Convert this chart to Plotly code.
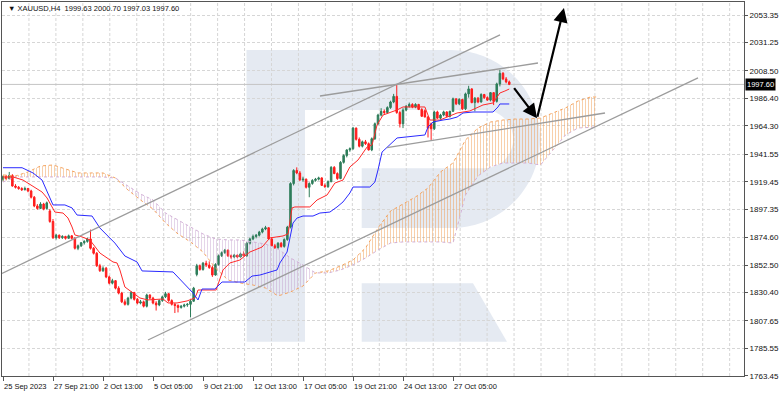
import plotly.graph_objects as go

# ---------------- data ----------------
bars = list(range(163))

open_ = [1921.5,1923.5,1922.0,1924.5,1916.0,1915.0,1914.0,1913.0,1914.0,1912.0,
 1907.0,1900.0,1898.0,1901.5,1898.0,1896.0,1887.5,1874.5,1876.5,1874.5,
 1875.5,1874.0,1876.0,1874.0,1866.0,1868.0,1870.5,1871.5,1873.5,1866.0,
 1862.0,1852.0,1848.0,1850.0,1843.0,1838.0,1840.0,1834.0,1830.0,1823.0,
 1821.0,1826.0,1830.5,1825.0,1822.0,1823.0,1819.5,1828.5,1826.0,1822.0,
 1820.5,1824.0,1827.0,1829.5,1824.0,1821.0,1820.0,1818.5,1819.5,1820.5,
 1821.0,1823.5,1845.0,1852.0,1849.0,1854.0,1852.5,1850.5,1844.5,1853.0,
 1860.0,1862.5,1864.5,1860.0,1859.0,1860.5,1859.0,1861.5,1860.0,1870.0,
 1873.5,1875.5,1876.5,1879.0,1881.5,1882.5,1873.5,1868.0,1866.5,1870.0,
 1867.5,1873.0,1883.0,1918.0,1928.5,1926.5,1921.0,1921.5,1915.0,1918.0,
 1920.5,1921.5,1922.5,1916.5,1915.5,1919.5,1931.0,1926.0,1922.0,1935.0,
 1940.5,1945.0,1946.0,1962.5,1953.5,1948.0,1951.5,1950.0,1945.0,1954.0,
 1966.0,1973.0,1976.0,1975.0,1979.0,1983.5,1988.0,1975.0,1966.0,1977.0,
 1980.0,1981.5,1979.5,1981.5,1977.5,1976.5,1971.5,1966.0,1962.0,1975.5,
 1970.5,1973.0,1975.5,1972.0,1976.0,1986.0,1982.0,1985.5,1978.0,1990.0,
 1994.0,1983.0,1986.5,1983.5,1989.5,1987.0,1985.0,1991.0,1984.0,1998.0,
 2006.5,2002.0,1999.63]

high = [1924.5,1925.0,1927.3,1925.5,1917.5,1916.0,1915.0,1915.5,1914.5,1913.0,
 1908.0,1901.5,1903.0,1902.5,1903.5,1897.5,1889.5,1877.5,1877.0,1876.5,
 1876.0,1877.0,1876.5,1875.0,1869.0,1871.0,1872.5,1874.5,1881.0,1867.0,
 1863.0,1853.5,1851.5,1851.0,1844.0,1841.5,1840.5,1835.5,1831.0,1825.0,
 1827.0,1831.5,1831.0,1826.0,1824.5,1824.0,1829.5,1829.0,1827.0,1823.5,
 1825.0,1828.0,1831.0,1830.0,1825.0,1822.0,1821.0,1820.5,1821.5,1822.0,
 1824.5,1835.0,1853.5,1853.0,1855.0,1856.0,1855.5,1852.0,1854.0,1861.0,
 1863.5,1865.5,1865.0,1861.0,1861.5,1861.0,1862.5,1863.5,1871.0,1874.5,
 1877.0,1877.5,1880.0,1882.5,1884.0,1883.0,1875.0,1869.5,1871.0,1871.0,
 1874.0,1884.0,1919.0,1929.5,1931.0,1928.0,1923.5,1922.0,1919.0,1921.5,
 1922.5,1923.5,1923.0,1918.0,1920.5,1932.0,1932.0,1927.0,1936.0,1941.5,
 1945.5,1947.0,1963.5,1963.0,1955.0,1952.5,1953.0,1951.0,1955.0,1967.0,
 1974.0,1978.5,1977.5,1980.0,1984.5,1990.0,1997.5,1976.5,1978.5,1981.0,
 1983.0,1982.5,1982.5,1982.0,1978.5,1977.5,1972.0,1967.0,1976.5,1976.5,
 1974.0,1976.5,1976.0,1976.5,1987.0,1986.5,1986.5,1986.0,1991.0,1996.5,
 1994.5,1987.5,1987.5,1990.5,1990.0,1988.0,1991.5,1991.5,1999.0,2009.4,
 2007.5,2003.5,2000.70]

low = [1920.0,1921.0,1921.5,1915.5,1914.0,1913.0,1912.0,1912.5,1911.0,1906.0,
 1899.0,1897.0,1897.5,1896.5,1897.0,1886.5,1873.5,1873.0,1873.5,1873.5,
 1873.0,1873.5,1873.0,1865.0,1864.5,1867.0,1869.0,1870.5,1865.0,1861.0,
 1851.0,1847.0,1847.0,1842.0,1837.0,1837.0,1833.0,1829.0,1822.0,1820.0,
 1820.0,1825.0,1824.0,1821.0,1821.0,1818.5,1818.5,1825.0,1821.0,1816.0,
 1819.5,1823.0,1826.0,1823.0,1820.0,1814.0,1814.5,1817.5,1818.5,1819.0,
 1810.5,1823.0,1843.5,1848.0,1848.0,1851.0,1849.5,1843.0,1844.0,1852.0,
 1859.0,1861.5,1859.0,1857.5,1858.0,1858.0,1858.5,1859.5,1859.0,1869.0,
 1872.5,1874.0,1875.5,1878.0,1880.5,1873.0,1867.5,1865.5,1865.5,1866.5,
 1866.5,1872.0,1882.0,1916.5,1925.5,1920.0,1919.5,1914.0,1907.0,1917.0,
 1919.5,1920.5,1916.0,1914.5,1914.5,1919.0,1925.5,1921.0,1921.5,1934.0,
 1939.0,1943.5,1945.0,1952.5,1947.0,1947.0,1949.0,1944.5,1944.0,1953.0,
 1965.0,1972.0,1973.5,1974.0,1978.0,1982.5,1974.0,1963.0,1962.5,1976.0,
 1979.0,1978.5,1978.5,1977.0,1971.5,1971.0,1955.0,1953.0,1961.0,1970.0,
 1969.5,1972.0,1971.5,1971.0,1975.5,1981.0,1981.0,1977.0,1977.0,1987.0,
 1982.5,1976.0,1982.5,1983.0,1986.0,1984.5,1984.0,1981.0,1983.0,1996.0,
 2001.0,1998.5,1997.03]

close = [1923.5,1922.0,1924.5,1916.0,1915.0,1914.0,1913.0,1914.0,1912.0,1907.0,
 1900.0,1898.0,1901.5,1897.5,1902.5,1887.5,1874.5,1876.5,1874.5,1875.5,
 1874.0,1876.0,1874.0,1866.0,1868.0,1870.5,1871.5,1873.5,1866.0,1862.0,
 1852.0,1848.0,1850.0,1843.0,1838.0,1840.0,1834.0,1830.0,1823.0,1821.0,
 1826.0,1830.5,1825.0,1822.0,1823.0,1819.5,1828.5,1826.0,1822.0,1820.5,
 1824.0,1827.0,1829.5,1824.0,1821.0,1820.0,1818.5,1819.5,1820.5,1821.0,
 1823.5,1834.0,1852.0,1849.0,1854.0,1852.5,1850.5,1844.5,1853.0,1860.0,
 1862.5,1864.5,1860.0,1859.0,1860.5,1859.0,1861.5,1860.0,1870.0,1873.5,
 1875.5,1876.5,1879.0,1881.5,1882.5,1873.5,1868.0,1866.5,1870.0,1867.5,
 1873.0,1883.0,1918.0,1928.5,1926.5,1921.0,1921.5,1915.0,1918.0,1920.5,
 1921.5,1922.5,1916.5,1915.5,1919.5,1931.0,1926.0,1922.0,1935.0,1940.5,
 1945.0,1946.0,1962.5,1953.5,1948.0,1951.5,1950.0,1945.0,1954.0,1966.0,
 1973.0,1976.0,1975.0,1979.0,1983.5,1988.0,1975.0,1966.0,1977.0,1980.0,
 1981.5,1979.5,1981.5,1977.5,1972.0,1971.5,1962.5,1962.0,1975.5,1970.5,
 1973.0,1975.5,1972.0,1976.0,1986.0,1982.0,1985.5,1978.0,1990.0,1994.0,
 1983.0,1986.5,1983.5,1989.5,1987.0,1985.0,1991.0,1984.0,1998.0,2006.5,
 2002.0,1999.6,1997.60]

# Ichimoku Tenkan-sen (red)
tenkan_x = [0, 3.2, 6.4, 9.6, 12.5, 14.1, 15.7, 16.6, 19.2, 20.8, 22.1, 23, 25.3, 27.8, 31,
            35.2, 36.5, 37.4, 39, 41.6, 43.8, 46.4, 51.2, 52.8, 55.7, 58.9, 61.4, 62.1, 62.4,
            68.2, 70.4, 72.6, 75.8, 79, 82.9, 85.4, 89.6, 91.2, 92.5, 93.4, 98.2, 100.5, 103.7,
            106.2, 108.8, 111, 113.6, 116.5, 118.1, 119.7, 121.6, 126.1, 128, 135, 136.6, 139.8,
            142.1, 145.3, 149.4, 153.6, 156.8, 159, 160.6, 162]
tenkan_y = [1923.3, 1923.3, 1920.8, 1916.0, 1911.2, 1906.4, 1898.4, 1895.1, 1894.3, 1890.3,
            1883.1, 1876.7, 1875.1, 1872.7, 1862.2, 1855.0, 1854.2, 1848.6, 1834.9, 1830.1,
            1826.1, 1824.5, 1825.3, 1822.1, 1822.1, 1823.7, 1826.1, 1830.1, 1832.5, 1832.5,
            1848.6, 1854.2, 1856.6, 1863.0, 1867.0, 1874.3, 1875.9, 1877.5, 1898.4, 1899.2,
            1899.2, 1904.8, 1908.8, 1918.4, 1920.8, 1931.3, 1936.9, 1947.3, 1949.0, 1965.0,
            1973.0, 1977.1, 1979.5, 1979.5, 1969.0, 1969.0, 1971.4, 1974.65, 1976.3, 1981.1,
            1982.7, 1990.7, 1992.3, 1993.9]

# Ichimoku Kijun-sen (blue)
kijun_x = [0, 6.1, 9.6, 12.5, 16, 19.8, 22.1, 23.7, 28.5, 31, 35.8, 39, 42.9, 44.5, 54.4,
           58.2, 60.8, 62.4, 63.7, 67.8, 70.1, 77.4, 79.7, 82.2, 87.7, 88.6, 90.9, 92.8, 94.1,
           96, 99.2, 101.4, 104.6, 106.9, 108.8, 111, 112, 117.4, 119, 120, 121.3, 126.1, 135,
           136, 137.6, 140.8, 143, 145.3, 147.2, 150.4, 156.8, 158.4, 159, 162]
kijun_y = [1930.7, 1930.7, 1926.5, 1920.8, 1900.8, 1900.8, 1898.4, 1892.7, 1891.9, 1882.3,
           1870.2, 1859.8, 1855.0, 1847.8, 1847.0, 1836.5, 1830.1, 1824.5, 1833.3, 1833.3,
           1838.9, 1838.9, 1843.7, 1844.5, 1848.6, 1854.2, 1863.0, 1886.3, 1890.3, 1891.9,
           1891.9, 1894.3, 1895.1, 1899.2, 1903.2, 1910.4, 1915.2, 1915.2, 1919.2, 1928.9,
           1943.3, 1954.6, 1957.0, 1963.4, 1967.4, 1969.0, 1969.8, 1971.4, 1974.65, 1975.45,
           1975.45, 1979.5, 1981.9, 1981.9]

# Ichimoku cloud (Senkou Span A / B), shifted 26 bars ahead
cloud_x = [0, 4, 8, 12, 16, 20, 24, 28, 32, 36, 40, 44, 48, 52, 56, 60, 64, 68, 72, 76,
           80, 84, 88, 92, 96, 100, 104, 108, 112, 116, 120, 124, 128, 132, 136, 140, 144,
           148, 152, 156, 160, 164, 168, 172, 176, 180, 184, 188, 190]
span_a = [1924.9, 1924.1, 1927.3, 1932.1, 1932.9, 1929.7, 1926.5, 1926.5, 1926.5, 1922.4,
          1912.8, 1904.8, 1897.5, 1886.3, 1877.5, 1871.1, 1863.0, 1850.2, 1840.5, 1838.1,
          1836.5, 1834.1, 1827.7, 1830.9, 1835.7, 1846.2, 1847.8, 1851.8, 1856.6, 1866.2,
          1882.3, 1895.9, 1901.6, 1907.2, 1914.4, 1927.3, 1934.5, 1953.0, 1962.6, 1967.4,
          1969.0, 1969.8, 1969.8, 1970.6, 1974.7, 1978.7, 1984.3, 1987.5, 1987.5]
span_b = [1919.2, 1923.3, 1923.3, 1923.3, 1923.3, 1923.3, 1923.3, 1923.3, 1923.3, 1922.4,
          1916.0, 1909.6, 1904.8, 1894.3, 1888.7, 1883.1, 1877.5, 1873.5, 1872.7, 1872.7,
          1871.1, 1869.4, 1865.4, 1858.2, 1852.6, 1846.2, 1846.2, 1848.6, 1852.6, 1858.2,
          1864.6, 1870.2, 1871.1, 1871.1, 1871.1, 1871.1, 1870.2, 1908.8, 1924.1, 1931.3,
          1934.5, 1934.5, 1934.5, 1932.9, 1944.9, 1957.0, 1962.6, 1963.4, 1963.4]

# axis ticks
ytick_vals = [2053.35, 2031.25, 2008.50, 1986.40, 1964.30, 1941.55, 1919.45, 1897.35,
              1874.60, 1852.50, 1830.40, 1807.65, 1785.55, 1763.45]
ytick_text = ["2053.35", "2031.25", "2008.50", "1986.40", "1964.30", "1941.55", "1919.45",
              "1897.35", "1874.60", "1852.50", "1830.40", "1807.65", "1785.55", "1763.45"]
xtick_bars = [0, 16, 32, 48, 64, 80, 96, 112, 128, 144]
xtick_text = ["25 Sep 2023", "27 Sep 21:00", "2 Oct 13:00", "5 Oct 05:00", "9 Oct 21:00",
              "12 Oct 13:00", "17 Oct 05:00", "19 Oct 21:00", "24 Oct 13:00", "27 Oct 05:00"]

# hand-drawn analysis objects (bar index, price)
trendlines = [
    (-0.32, 1845.85, 159.04, 2037.45),
    (46.4, 1792.35, 222.4, 2002.9),
    (101.44, 1988.3, 171.2, 2014.8),
    (122.88, 1946.9, 192.64, 1974.65),
]
arrows = [
    (163.2, 1995.8, 170.9, 1970.4),
    (170.9, 1970.4, 179.5, 2059.0),
]
last_price = 1997.60
title_text = "\u25BC XAUUSD,H4  1999.63 2000.70 1997.03 1997.60"

# ---------------- styling ----------------
FONT = "Liberation Sans, Arial, sans-serif"
GREEN = "#2e7d5a"
RED = "#ff1c1c"
W, H = 782, 396
ML, MR, MT, MB = 2, 38, 2, 20
PW, PH = W - ML - MR, H - MT - MB
X_RANGE = [-0.32, 237.12]
Y_RANGE = [1763.43, 2063.79]


def px(x, y):
    """pixel (page) position -> paper coordinates (for decorations only)"""
    return (x - ML) / PW, (H - MB - y) / PH


def path(points_cmds):
    out = []
    for cmd, pts in points_cmds:
        coords = " ".join("%.5f,%.5f" % px(*p) for p in pts)
        out.append(cmd + coords)
    return " ".join(out) + " Z"


fig = go.Figure()

# cloud fills
upper = [max(a, b) for a, b in zip(span_a, span_b)]
fig.add_trace(go.Scatter(x=cloud_x, y=span_b, mode="lines", line=dict(width=0),
                         hoverinfo="skip", showlegend=False))
fig.add_trace(go.Scatter(x=cloud_x, y=upper, mode="lines", line=dict(width=0),
                         fill="tonexty", fillcolor="rgba(0,0,0,0)",
                         fillpattern=dict(shape="|", size=3, solidity=0.33,
                                          fgcolor="rgba(240,150,70,0.9)",
                                          bgcolor="rgba(0,0,0,0)"),
                         hoverinfo="skip", showlegend=False))
fig.add_trace(go.Scatter(x=cloud_x, y=span_a, mode="lines", line=dict(width=0),
                         hoverinfo="skip", showlegend=False))
fig.add_trace(go.Scatter(x=cloud_x, y=upper, mode="lines", line=dict(width=0),
                         fill="tonexty", fillcolor="rgba(0,0,0,0)",
                         fillpattern=dict(shape="|", size=3, solidity=0.33,
                                          fgcolor="rgba(190,150,200,0.8)",
                                          bgcolor="rgba(0,0,0,0)"),
                         hoverinfo="skip", showlegend=False))
fig.add_trace(go.Scatter(x=cloud_x, y=span_a, mode="lines",
                         line=dict(color="#f4a460", width=1, dash="dot"),
                         hoverinfo="skip", showlegend=False))
fig.add_trace(go.Scatter(x=cloud_x, y=span_b, mode="lines",
                         line=dict(color="#d2b0d6", width=1, dash="dot"),
                         hoverinfo="skip", showlegend=False))

# tenkan / kijun
fig.add_trace(go.Scatter(x=tenkan_x, y=tenkan_y, mode="lines",
                         line=dict(color="#ff2a2a", width=1), showlegend=False))
fig.add_trace(go.Scatter(x=kijun_x, y=kijun_y, mode="lines",
                         line=dict(color="#2a2aff", width=1), showlegend=False))

# candles
fig.add_trace(go.Candlestick(
    x=bars, open=open_, high=high, low=low, close=close,
    increasing=dict(line=dict(color=GREEN, width=1), fillcolor=GREEN),
    decreasing=dict(line=dict(color=RED, width=1), fillcolor=RED),
    whiskerwidth=0, showlegend=False))

shapes = []
WM = "#e5eaf2"
# watermark logo
shapes.append(dict(type="rect", xref="paper", yref="paper", layer="below",
                   x0=px(246.7, 0)[0], x1=px(305, 0)[0], y0=px(0, 341.7)[1], y1=px(0, 50)[1],
                   fillcolor=WM, line=dict(width=0)))
R, k = 89.0, 49.2
shapes.append(dict(type="path", xref="paper", yref="paper", layer="below",
                   path=path([("M", [(246.7, 50)]), ("L", [(451, 50)]),
                              ("C", [(451 + k, 50), (540, 139 - k), (540, 139)]),
                              ("C", [(540, 139 + k), (451 + k, 228), (451, 228)]),
                              ("L", [(246.7, 228)])]),
                   fillcolor=WM, line=dict(width=0)))
shapes.append(dict(type="path", xref="paper", yref="paper", layer="below",
                   path=path([("M", [(305, 110)]), ("L", [(484, 110)]),
                              ("C", [(500.1, 110), (513.2, 123), (513.2, 139.15)]),
                              ("C", [(513.2, 155.3), (500.1, 168.3), (484, 168.3)]),
                              ("L", [(305, 168.3)])]),
                   fillcolor="white", line=dict(width=0)))
shapes.append(dict(type="rect", xref="paper", yref="paper", layer="below",
                   x0=px(305, 0)[0], x1=px(361.7, 0)[0], y0=px(0, 228.5)[1], y1=px(0, 168)[1],
                   fillcolor="white", line=dict(width=0)))
shapes.append(dict(type="path", xref="paper", yref="paper", layer="below",
                   path=path([("M", [(361.7, 283.3)]), ("L", [(473, 283.3)]),
                              ("L", [(507, 341.7)]), ("L", [(361.7, 341.7)])]),
                   fillcolor=WM, line=dict(width=0)))
# vertical grid
for kk in range(1, 28):
    gx = px(2 + 26.95 * kk, 0)[0]
    shapes.append(dict(type="line", xref="paper", yref="paper", layer="below",
                       x0=gx, x1=gx, y0=0, y1=1,
                       line=dict(color="#d6d6d6", width=1, dash="3px,2px")))
# last price line
shapes.append(dict(type="line", xref="paper", yref="y", layer="below",
                   x0=0, x1=1, y0=last_price, y1=last_price,
                   line=dict(color="#c4c4c4", width=1)))
# trendlines
for (x0, y0, x1, y1) in trendlines:
    shapes.append(dict(type="line", xref="x", yref="y", x0=x0, y0=y0, x1=x1, y1=y1,
                       line=dict(color="#9c9c9c", width=1.3)))

annotations = []
for (x0, y0, x1, y1) in arrows:
    annotations.append(dict(x=x1, y=y1, ax=x0, ay=y0, xref="x", yref="y",
                            axref="x", ayref="y", text="", showarrow=True,
                            arrowhead=2, arrowsize=1.3, arrowwidth=2.2,
                            arrowcolor="black", standoff=0))
for b, t in zip(xtick_bars, xtick_text):
    annotations.append(dict(x=b, y=0, xref="x", yref="paper", text=t, showarrow=False,
                            xanchor="left", yanchor="top", xshift=-1, yshift=-4,
                            font=dict(family=FONT, size=7.5, color="#111")))
tx, ty = px(6, 8.7)
annotations.append(dict(x=tx, y=ty, xref="paper", yref="paper", text=title_text,
                        showarrow=False, xanchor="left", yanchor="middle",
                        font=dict(family=FONT, size=7.5, color="#111")))
annotations.append(dict(x=1, y=last_price, xref="paper", yref="y", text="1997.60",
                        showarrow=False, xanchor="left", yanchor="middle", xshift=1,
                        bgcolor="black", borderpad=1,
                        font=dict(family=FONT, size=7.5, color="white")))

fig.update_layout(
    width=W, height=H,
    margin=dict(l=ML, r=MR, t=MT, b=MB, pad=0),
    paper_bgcolor="white", plot_bgcolor="white",
    showlegend=False, hovermode=False,
    font=dict(family=FONT, size=7.5, color="#111"),
    shapes=shapes, annotations=annotations,
    xaxis=dict(range=X_RANGE, rangeslider=dict(visible=False), showgrid=False,
               zeroline=False, showline=True, mirror=True, linecolor="#555", linewidth=1,
               ticks="outside", tickvals=xtick_bars, ticklen=4, tickcolor="#555",
               showticklabels=False, fixedrange=True),
    yaxis=dict(range=Y_RANGE, side="right", tickvals=ytick_vals, ticktext=ytick_text,
               showgrid=True, gridcolor="#d6d6d6", griddash="3px,2px", gridwidth=1,
               zeroline=False, showline=True, mirror=True, linecolor="#555", linewidth=1,
               ticks="outside", ticklen=3, tickcolor="#555", automargin=False,
               tickfont=dict(family=FONT, size=8, color="#111"), fixedrange=True),
)

fig.write_html("out.html", config={"displayModeBar": False},
               post_script="document.body.style.margin='0';document.body.style.padding='0';")
